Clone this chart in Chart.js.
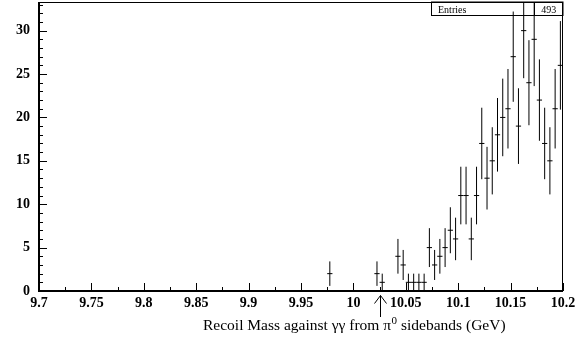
<!DOCTYPE html>
<html>
<head>
<meta charset="utf-8">
<script src="https://cdn.jsdelivr.net/npm/chart.js@4/dist/chart.umd.min.js"></script>
<style>
  html, body { margin:0; padding:0; background:#fff; }
  #wrap { width:587px; height:339px; position:relative; }
</style>
</head>
<body>
<div id="wrap"><canvas id="c" width="587" height="339"></canvas></div>
<script>
// ---- data ----
const binWidth = 0.005;
const binCenters = [9.9775, 10.0225, 10.0275, 10.0425, 10.0475, 10.0525, 10.0575, 10.0625, 10.0675,
  10.0725, 10.0775, 10.0825, 10.0875, 10.0925, 10.0975, 10.1025, 10.1075, 10.1125, 10.1175,
  10.1225, 10.1275, 10.1325, 10.1375, 10.1425, 10.1475, 10.1525, 10.1575, 10.1625, 10.1675,
  10.1725, 10.1775, 10.1825, 10.1875, 10.1925, 10.1975];
const counts = [2, 2, 1, 4, 3, 1, 1, 1, 1,
  5, 3, 4, 5, 7, 6, 11, 11, 6, 11,
  17, 13, 15, 18, 20, 21, 27, 19, 30, 24,
  29, 22, 17, 15, 21, 26];
const errors = [1.41, 1.41, 1, 2, 1.73, 1, 1, 1, 1,
  2.24, 1.73, 2, 2.24, 2.65, 2.45, 3.32, 3.32, 2.45, 3.32,
  4.12, 3.61, 3.87, 4.24, 4.47, 4.58, 5.20, 4.36, 5.48, 4.90,
  5.39, 4.69, 4.12, 3.87, 4.58, 5.10];
const entries = 493;
const xMin = 9.7, xMax = 10.2, yMin = 0, yMax = 33.3;
const xLabelStep = 0.05, xMinorStep = 0.025;
const yLabelStep = 5, yMinorStep = 1;
const arrowX = 10.025;
const xTitleMain = "Recoil Mass against \u03B3\u03B3 from \u03C0";
const xTitleSup = "0";
const xTitleTail = " sidebands (GeV)";

// ---- build error-bar segments ----
const vSeg = [], hSeg = [];
binCenters.forEach((c, i) => {
  vSeg.push({x: c, y: counts[i] - errors[i]}, {x: c, y: counts[i] + errors[i]}, {x: c, y: null});
  hSeg.push({x: c - binWidth / 2, y: counts[i]}, {x: c + binWidth / 2, y: counts[i]}, {x: c + binWidth / 2, y: null});
});

const serif = "'Liberation Serif', 'Times New Roman', serif";

const rootStyle = {
  id: 'rootStyle',
  beforeDatasetsDraw(chart) {
    const {ctx, chartArea: a} = chart;
    ctx.save();
    // stats box
    const bx0 = 431.5, bx1 = a.right, by0 = a.top, by1 = 15.5, div = 534.5;
    ctx.fillStyle = '#fff';
    ctx.fillRect(bx0, by0, bx1 - bx0, by1 - by0);
    ctx.strokeStyle = '#000';
    ctx.lineWidth = 1;
    ctx.strokeRect(bx0, by0, bx1 - bx0, by1 - by0);
    ctx.beginPath(); ctx.moveTo(div, by0); ctx.lineTo(div, by1); ctx.stroke();
    ctx.fillStyle = '#000';
    ctx.font = "10px " + serif;
    ctx.textBaseline = 'alphabetic';
    ctx.textAlign = 'left';
    ctx.fillText('Entries', 438, 12.5);
    ctx.textAlign = 'center';
    ctx.fillText(String(entries), (div + bx1) / 2, 12.5);
    ctx.restore();
  },
  afterDatasetsDraw(chart) {
    const {ctx, chartArea: a, scales: {x, y}} = chart;
    ctx.save();
    ctx.strokeStyle = '#000';
    // ticks (inside frame)
    ctx.lineWidth = 1;
    ctx.beginPath();
    const nx = Math.round((xMax - xMin) / xMinorStep);
    for (let k = 0; k <= nx; k++) {
      const v = xMin + k * xMinorStep;
      const px = Math.round(x.getPixelForValue(v)) + 0.5;
      const major = (k % Math.round(xLabelStep / xMinorStep)) === 0;
      ctx.moveTo(px, a.bottom);
      ctx.lineTo(px, a.bottom - (major ? 8 : 4));
    }
    for (let v = yMin; v <= yMax; v += yMinorStep) {
      const py = Math.round(y.getPixelForValue(v)) + 0.5;
      const major = (v % yLabelStep) === 0;
      ctx.moveTo(a.left, py);
      ctx.lineTo(a.left + (major ? 8 : 4), py);
    }
    ctx.stroke();
    // frame
    ctx.lineWidth = 1;
    ctx.strokeRect(a.left + 0.5, a.top + 0.5, a.right - a.left - 1, a.bottom - a.top - 1);
    ctx.lineWidth = 2;
    ctx.beginPath();
    ctx.moveTo(a.left, a.top); ctx.lineTo(a.left, a.bottom);
    ctx.lineTo(a.right, a.bottom);
    ctx.stroke();
    ctx.restore();
  },
  afterDraw(chart) {
    const {ctx, scales: {x}} = chart;
    ctx.save();
    ctx.strokeStyle = '#000';
    ctx.fillStyle = '#000';
    // arrow
    const ax = Math.round(x.getPixelForValue(arrowX)) + 0.5;
    ctx.lineWidth = 1;
    ctx.beginPath();
    ctx.moveTo(ax, 317); ctx.lineTo(ax, 295.5);
    ctx.moveTo(ax - 6, 303.5); ctx.lineTo(ax, 295.5); ctx.lineTo(ax + 6, 303.5);
    ctx.stroke();
    // axis title
    let tx = 203;
    const base = 330;
    ctx.textAlign = 'left';
    ctx.textBaseline = 'alphabetic';
    ctx.font = "15.5px " + serif;
    ctx.fillText(xTitleMain, tx, base);
    tx += ctx.measureText(xTitleMain).width + 0.5;
    ctx.font = "11px " + serif;
    ctx.fillText(xTitleSup, tx, base - 6);
    tx += ctx.measureText(xTitleSup).width;
    ctx.font = "15.5px " + serif;
    ctx.fillText(xTitleTail, tx, base);
    ctx.restore();
  }
};

new Chart(document.getElementById('c'), {
  type: 'line',
  data: {
    datasets: [
      { data: vSeg, borderColor: '#000', borderWidth: 1, pointRadius: 0, spanGaps: false, tension: 0 },
      { data: hSeg, borderColor: '#000', borderWidth: 1, pointRadius: 0, spanGaps: false, tension: 0 }
    ]
  },
  options: {
    responsive: false,
    animation: false,
    events: [],
    layout: { padding: { top: 2, right: 24, left: 0, bottom: 0 } },
    plugins: { legend: { display: false }, tooltip: { enabled: false }, title: { display: false } },
    scales: {
      x: {
        type: 'linear', min: xMin, max: xMax,
        grid: { display: false, drawTicks: false },
        border: { display: false },
        ticks: {
          stepSize: xLabelStep, autoSkip: false, maxRotation: 0, minRotation: 0, padding: 4,
          color: '#000', font: { family: serif, size: 14, weight: 'bold' },
          callback: (v) => Number(Number(v).toFixed(3)).toString()
        },
        afterFit(s) { s.height = 48; s.paddingLeft = 0; s.paddingRight = 0; }
      },
      y: {
        type: 'linear', min: yMin, max: yMax,
        grid: { display: false, drawTicks: false },
        border: { display: false },
        ticks: {
          stepSize: yLabelStep, padding: 9,
          color: '#000', font: { family: serif, size: 14, weight: 'bold' },
          callback: (v) => (v % yLabelStep === 0 ? String(v) : null)
        },
        afterFit(s) { s.width = 39; s.paddingTop = 0; s.paddingBottom = 0; }
      }
    }
  },
  plugins: [rootStyle]
});
</script>
</body>
</html>
